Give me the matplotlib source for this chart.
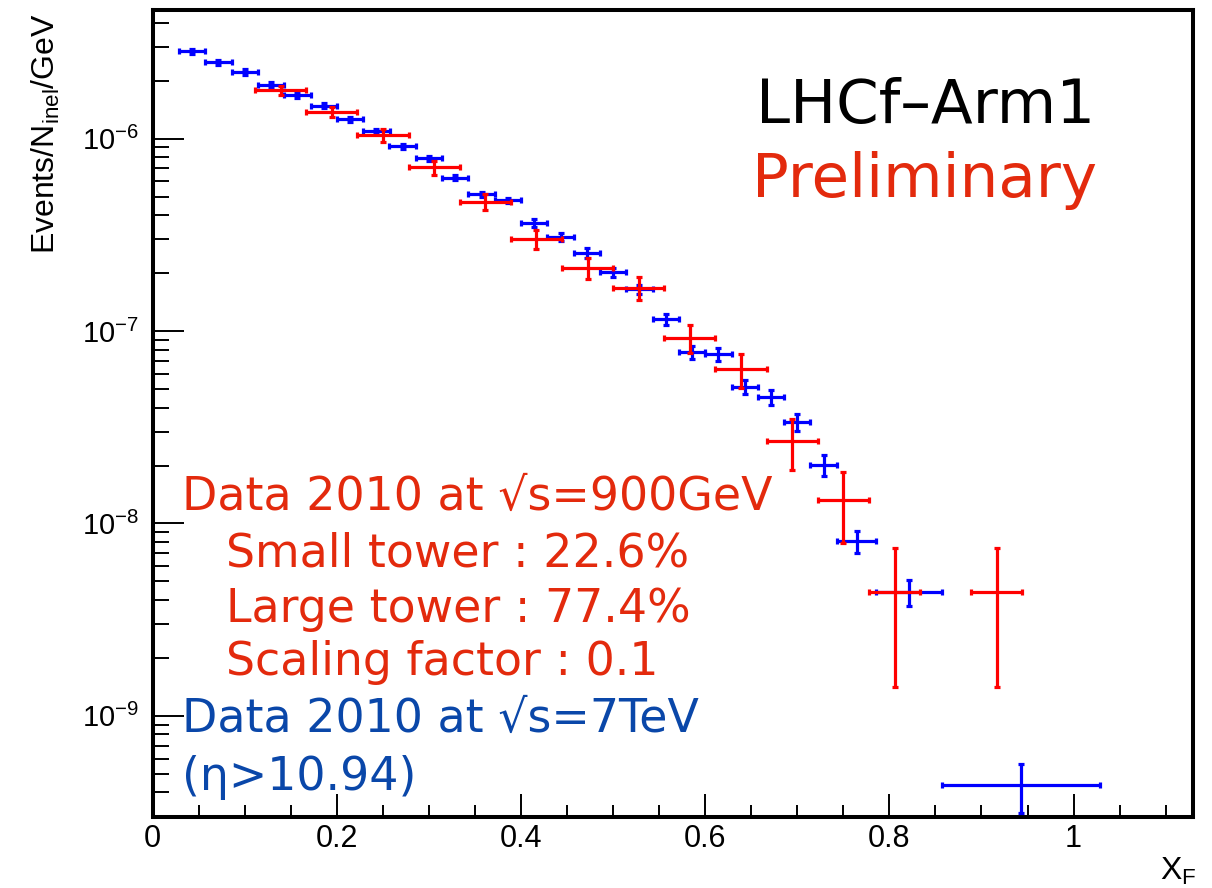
import matplotlib
matplotlib.use("Agg")
import matplotlib.pyplot as plt
from matplotlib.ticker import FixedLocator, MultipleLocator, LogLocator, FuncFormatter, NullFormatter, LogFormatterMathtext

# ---- 7 TeV photon spectrum (blue) ----
x_7tev = [0.0429, 0.0714, 0.1000, 0.1286, 0.1571, 0.1857, 0.2143, 0.2429,
          0.2714, 0.3000, 0.3286, 0.3571, 0.3857, 0.4143, 0.4429, 0.4714,
          0.5000, 0.5286, 0.5571, 0.5857, 0.6143, 0.6429, 0.6714, 0.7000,
          0.7286, 0.7643, 0.8214, 0.9429]
xerr_7tev = [0.0143] * 25 + [0.0214, 0.0357, 0.0857]
y_7tev = [2.84e-6, 2.49e-6, 2.22e-6, 1.90e-6, 1.68e-6, 1.48e-6, 1.26e-6,
          1.094e-6, 9.14e-7, 7.92e-7, 6.26e-7, 5.15e-7, 4.77e-7, 3.65e-7,
          3.08e-7, 2.55e-7, 2.02e-7, 1.645e-7, 1.149e-7, 7.74e-8, 7.56e-8,
          5.13e-8, 4.52e-8, 3.38e-8, 2.01e-8, 8.09e-9, 4.40e-9, 4.37e-10]
yerr_7tev = [8.6e-8, 7.6e-8, 6.7e-8, 5.8e-8, 5.1e-8, 4.5e-8, 3.8e-8, 3.3e-8,
             2.8e-8, 2.4e-8, 1.9e-8, 1.6e-8, 1.5e-8, 1.8e-8, 1.6e-8, 1.4e-8,
             1.04e-8, 9.5e-9, 7.8e-9, 6.0e-9, 5.6e-9, 4.1e-9, 4.1e-9, 3.4e-9,
             2.55e-9, 1.06e-9, 6.8e-10, 1.25e-10]

# ---- 900 GeV photon spectrum, scaled by 0.1 (red) ----
x_900 = [0.1389, 0.1944, 0.2500, 0.3056, 0.3611, 0.4167, 0.4722, 0.5278,
         0.5833, 0.6389, 0.6944, 0.7500, 0.8056, 0.9167]
xerr_900 = [0.0278] * 14
y_900 = [1.786e-6, 1.378e-6, 1.039e-6, 7.08e-7, 4.69e-7, 3.00e-7, 2.123e-7,
         1.677e-7, 9.19e-8, 6.32e-8, 2.687e-8, 1.321e-8, 4.41e-9, 4.41e-9]
yerr_900 = [9.2e-8, 9.03e-8, 7.74e-8, 5.72e-8, 4.41e-8, 3.41e-8, 2.61e-8,
            2.36e-8, 1.51e-8, 1.27e-8, 7.97e-9, 5.32e-9, 3.0e-9, 3.0e-9]

x_major_ticks = [0.0, 0.2, 0.4, 0.6, 0.8, 1.0]
y_major_ticks = [1e-9, 1e-8, 1e-7, 1e-6]

plt.rcParams["font.family"] = ["Liberation Sans", "DejaVu Sans"]
plt.rcParams["mathtext.fontset"] = "custom"
plt.rcParams["mathtext.rm"] = "Liberation Sans"
plt.rcParams["mathtext.it"] = "Liberation Sans:italic"
plt.rcParams["mathtext.bf"] = "Liberation Sans:bold"

W, H = 1212, 888
fig = plt.figure(figsize=(W / 100, H / 100), dpi=100)


def fx(px):
    return px / W


def fy(py):
    return 1 - py / H


left, right, top, bottom = 152.7, 1193.3, 10.0, 817.3
ax = fig.add_axes([fx(left), fy(bottom), fx(right - left), (bottom - top) / H])

ax.errorbar(x_7tev, y_7tev, xerr=xerr_7tev, yerr=yerr_7tev, fmt="none",
            ecolor="#0000ff", elinewidth=2.3, capsize=2.0, capthick=2.3, zorder=3)
ax.errorbar(x_900, y_900, xerr=xerr_900, yerr=yerr_900, fmt="none",
            ecolor="#ff0000", elinewidth=2.3, capsize=2.0, capthick=2.3, zorder=4)

ax.set_yscale("log")
ax.set_xlim(0, 1.13)
ax.set_ylim(2.97e-10, 4.66e-6)

for s in ax.spines.values():
    s.set_linewidth(2.9)

ax.xaxis.set_major_locator(FixedLocator(x_major_ticks))
ax.xaxis.set_minor_locator(MultipleLocator(0.05))
ax.xaxis.set_major_formatter(FuncFormatter(lambda v, p: "%g" % v))
ax.yaxis.set_major_locator(FixedLocator(y_major_ticks))
ax.yaxis.set_major_formatter(LogFormatterMathtext())
ax.yaxis.set_minor_locator(LogLocator(base=10, subs=range(2, 10), numticks=20))
ax.yaxis.set_minor_formatter(NullFormatter())
ax.xaxis.offsetText.set_visible(False)
ax.yaxis.offsetText.set_visible(False)

ax.tick_params(axis="both", which="both", direction="in", top=False, right=False,
               width=1.4, color="black")
ax.tick_params(axis="x", which="major", length=16.5, labelsize=22, pad=5)
ax.tick_params(axis="x", which="minor", length=8.5)
ax.tick_params(axis="y", which="major", length=22, labelsize=21, pad=10)
ax.tick_params(axis="y", which="minor", length=11.5)

# axis titles
fig.text(fx(46), fy(13), r"Events/N$_{\mathrm{inel}}$/GeV", rotation=90,
         ha="center", va="top", fontsize=23)
fig.text(fx(1196), fy(880), r"X$_{\mathrm{F}}$", ha="right", va="baseline",
         fontsize=23)

# annotations
red_txt = "#e32a0d"
blue_txt = "#0a47a9"
ann = dict(family=["DejaVu Sans"], va="baseline")
fig.text(fx(1095), fy(123.3), "LHCf\u2013Arm1", ha="right", fontsize=44,
         color="black", **ann)
fig.text(fx(1097), fy(196.7), "Preliminary", ha="right", fontsize=44,
         color=red_txt, **ann)

fig.text(fx(182), fy(510), "Data 2010 at \u221as=900GeV", fontsize=33,
         color=red_txt, **ann)
fig.text(fx(226), fy(566), "Small tower : 22.6%", fontsize=33, color=red_txt, **ann)
fig.text(fx(226), fy(622.5), "Large tower : 77.4%", fontsize=33, color=red_txt, **ann)
fig.text(fx(226), fy(675), "Scaling factor : 0.1", fontsize=33, color=red_txt, **ann)
fig.text(fx(182), fy(731.7), "Data 2010 at \u221as=7TeV", fontsize=33,
         color=blue_txt, **ann)
fig.text(fx(182), fy(790), "(\u03b7>10.94)", fontsize=33, color=blue_txt, **ann)

fig.savefig("out.png", dpi=100, facecolor="white")
